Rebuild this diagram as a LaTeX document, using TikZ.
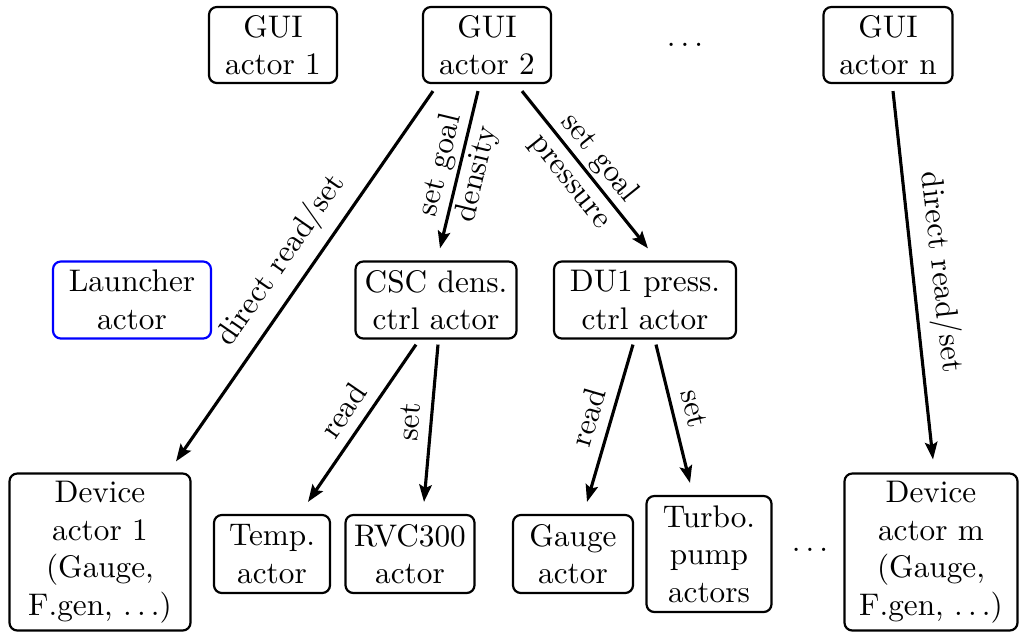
\documentclass[tikz,border=0pt]{standalone}
\usetikzlibrary{arrows.meta}
\begin{document}
\begin{tikzpicture}[x=0.32pt,y=-0.32pt,
  box/.style={draw, rounded corners=2.5pt, line width=0.7pt, align=center, inner sep=0pt},
  conn/.style={-{Stealth[length=5.5pt,width=4pt,inset=1pt]}, line width=1pt},
  lbl/.style={sloped, above},
  mid/.style={sloped, align=center}]
\useasboundingbox (0,0) rectangle (1029,634);
% top row
\node[box, minimum width=128*0.32pt, minimum height=76*0.32pt] (gui1) at (273,45) {GUI\\actor 1};
\node[box, minimum width=128*0.32pt, minimum height=76*0.32pt] (gui2) at (487,45) {GUI\\actor 2};
\node (dotstop) at (685,45) {$\dots$};
\node[box, minimum width=129*0.32pt, minimum height=76*0.32pt] (guin) at (888,45) {GUI\\actor n};
% middle row
\node[box, draw=blue, minimum width=158*0.32pt, minimum height=77*0.32pt] (launch) at (132,300) {Launcher\\actor};
\node[box, minimum width=161*0.32pt, minimum height=77*0.32pt] (csc) at (436,300) {CSC dens.\\ctrl actor};
\node[box, minimum width=182*0.32pt, minimum height=77*0.32pt] (du1) at (645,300) {DU1 press.\\ctrl actor};
% bottom row
\node[box, minimum width=181*0.32pt, minimum height=157*0.32pt] (dev1) at (100,552) {Device\\actor 1\\(Gauge,\\F.gen, $\dots$)};
\node[box, minimum width=116*0.32pt, minimum height=78*0.32pt] (temp) at (272,554) {Temp.\\actor};
\node[box, minimum width=129*0.32pt, minimum height=78*0.32pt] (rvc) at (410,554) {RVC300\\actor};
\node[box, minimum width=120*0.32pt, minimum height=78*0.32pt] (gauge) at (573,554) {Gauge\\actor};
\node[box, minimum width=125*0.32pt, minimum height=116*0.32pt] (turbo) at (709,554) {Turbo.\\pump\\actors};
\node (dotsbot) at (810,550) {$\dots$};
\node[box, minimum width=173*0.32pt, minimum height=157*0.32pt] (devm) at (931,552) {Device\\actor m\\(Gauge,\\F.gen, $\dots$)};
% connectors
\draw[conn] ([shift={(-54,7)}]gui2.south) -- node[lbl]{direct read/set} ([shift={(76,-11)}]dev1.north);
\draw[conn] ([shift={(-9,7)}]gui2.south) -- node[mid]{set goal\\density} ([shift={(4,-12)}]csc.north);
\draw[conn] ([shift={(35,7)}]gui2.south) -- node[mid]{set goal\\pressure} ([shift={(3,-12)}]du1.north);
\draw[conn] ([shift={(5,7)}]guin.south) -- node[lbl]{direct read/set} ([shift={(2,-13)}]devm.north);
\draw[conn] ([shift={(-20,5)}]csc.south) -- node[lbl]{read} ([shift={(36,-12)}]temp.north);
\draw[conn] ([shift={(2,5)}]csc.south) -- node[lbl]{set} ([shift={(14,-12)}]rvc.north);
\draw[conn] ([shift={(-12,5)}]du1.south) -- node[lbl]{read} ([shift={(14,-12)}]gauge.north);
\draw[conn] ([shift={(11,5)}]du1.south) -- node[lbl]{set} ([shift={(-19,-12)}]turbo.north);
\end{tikzpicture}
\end{document}
